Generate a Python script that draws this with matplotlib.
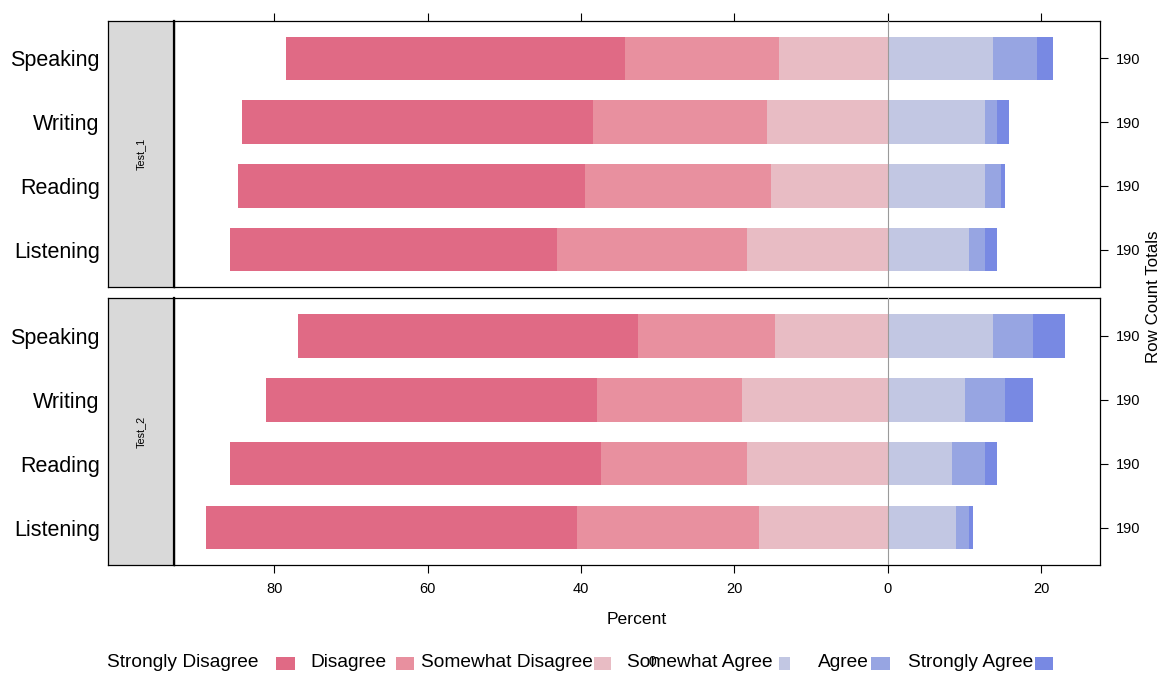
import matplotlib as mpl
mpl.use('Agg')
import numpy as np
import matplotlib.pyplot as plt
from matplotlib.patches import Rectangle

mpl.rcParams['font.family'] = ['Liberation Sans', 'DejaVu Sans']

levels = ['Strongly Disagree', 'Disagree', 'Somewhat Disagree',
          'Somewhat Agree', 'Agree', 'Strongly Agree']
clrs = ['#E06A85', '#E8909F', '#E8BCC4', '#C2C7E3', '#97A5E2', '#7889E3']
skills = ['Listening', 'Reading', 'Writing', 'Speaking']   # bottom to top
tests = ['Test_1', 'Test_2']

# response counts per skill (Listening, Reading, Writing, Speaking)
test1 = [[81, 86, 87, 84],   # Strongly Disagree
         [47, 46, 43, 38],   # Disagree
         [35, 29, 30, 27],   # Somewhat Disagree
         [20, 24, 24, 26],   # Somewhat Agree
         [4, 4, 3, 11],      # Agree
         [3, 1, 3, 4]]       # Strongly Agree
test2 = [[92, 92, 82, 84],
         [45, 36, 36, 34],
         [32, 35, 36, 28],
         [17, 16, 19, 26],
         [3, 8, 10, 10],
         [1, 3, 7, 8]]

xticks = [-80, -60, -40, -20, 0, 20]
xticklabels = ['80', '60', '40', '20', '0', '20']

W, H = 1165, 679
def fx(x): return x / W
def fy(y): return 1 - y / H

fig = plt.figure(figsize=(W / 100, H / 100), dpi=100)

panels = [(test1, 20.7, 287.3), (test2, 298.3, 565.3)]
ypos = np.arange(1, len(skills) + 1)
axes = []
for k, (counts, top, bot) in enumerate(panels):
    counts = np.array(counts, dtype=float)
    totals = counts.sum(axis=0)
    pct = counts / totals * 100

    ax = fig.add_axes([fx(173.7), fy(bot), fx(1100.3) - fx(173.7), (bot - top) / H])
    sax = fig.add_axes([fx(108), fy(bot), fx(173.7) - fx(108), (bot - top) / H])

    # negative side: stack outward from 0
    left = np.zeros(len(skills))
    for i in [2, 1, 0]:
        left = left - pct[i]
        ax.barh(ypos, pct[i], left=left, height=0.68, color=clrs[i], edgecolor='none')
    left = np.zeros(len(skills))
    for i in [3, 4, 5]:
        ax.barh(ypos, pct[i], left=left, height=0.68, color=clrs[i], edgecolor='none')
        left = left + pct[i]

    ax.axvline(0, color='#9A9A9A', lw=0.8, zorder=3)
    ax.set_xlim(-93.1, 27.7)
    ax.set_ylim(0.41, 4.59)
    ax.set_xticks(xticks)
    if k == 0:
        ax.tick_params(axis='x', top=True, bottom=False, labeltop=False, labelbottom=False,
                       direction='out', length=5.8, width=0.8)
    else:
        ax.set_xticklabels(xticklabels)
        ax.tick_params(axis='x', top=False, bottom=True, direction='out',
                       length=5.8, width=0.8, labelsize=10.5, pad=6.5)
        ax.set_xlabel('Percent', fontsize=12.6, labelpad=11)
    ax.yaxis.tick_right()
    ax.set_yticks(ypos)
    ax.set_yticklabels(['%d' % t for t in totals])
    ax.tick_params(axis='y', direction='out', length=5.8, width=0.8, labelsize=10.5, pad=5.5)
    for s in ax.spines.values():
        s.set_linewidth(0.9)

    # strip on the left
    sax.set_facecolor('#D9D9D9')
    sax.set_xlim(0, 1)
    sax.set_ylim(0.41, 4.59)
    sax.set_xticks([])
    sax.set_yticks(ypos)
    sax.set_yticklabels(skills, fontsize=15.5)
    sax.tick_params(axis='y', length=0, pad=6)
    sax.text(0.5, 0.5, tests[k], rotation=90, ha='center', va='center',
             fontsize=7.8, transform=sax.transAxes)
    for s in sax.spines.values():
        s.set_linewidth(0.9)
    sax.spines['right'].set_linewidth(1.6)
    axes.append(ax)

fig.text(fx(1154), fy(296.5), 'Row Count Totals', rotation=90, ha='center', va='center',
         fontsize=12.2)

# legend along the bottom
leg_text_x = [107, 310, 421, 627, 818, 908]
leg_box_x = [276, 396, 594, 779, 871, 1035]
leg_box_w = [19, 18, 17, 11, 19, 18]
for i, lab in enumerate(levels):
    fig.text(fx(leg_text_x[i]), fy(667), lab, ha='left', va='baseline', fontsize=13.8)
    fig.patches.append(Rectangle((fx(leg_box_x[i]), fy(669.5)), leg_box_w[i] / W, 13 / H,
                                 transform=fig.transFigure, color=clrs[i], lw=0))
fig.text(fx(652.5), fy(666.5), '0', ha='center', va='baseline', fontsize=10)

plt.savefig('out.png', dpi=100)
plt.close()
